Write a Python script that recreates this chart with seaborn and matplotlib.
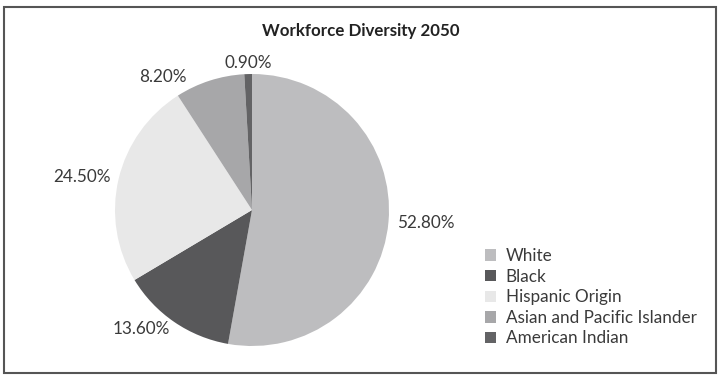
# Workforce diversity 2050 pie chart
import matplotlib
matplotlib.use("Agg")
import matplotlib.pyplot as plt
import matplotlib.patches as mpatches
import seaborn as sns

# data
groups = ["White", "Black", "Hispanic Origin", "Asian and Pacific Islander", "American Indian"]
shares = [52.8, 13.6, 24.5, 8.2, 0.9]
pct_labels = ["52.80%", "13.60%", "24.50%", "8.20%", "0.90%"]
colors = ["#bdbdbf", "#58585a", "#e8e8e8", "#a7a7a9", "#636365"]

sns.set_theme(style="white")
plt.rcParams['font.family'] = ['Lato', 'DejaVu Sans']

fig = plt.figure(figsize=(7.22, 3.78), dpi=100)

# axes placed so the pie sits where it does in the picture
W, H = 722, 378
ax = fig.add_axes([115 / W, (H - 346) / H, 274 / W, 272 / H])
wedges, texts = ax.pie(shares, labels=pct_labels, colors=colors, startangle=90,
                       counterclock=False, labeldistance=1.06,
                       wedgeprops=dict(linewidth=0, edgecolor='none'),
                       textprops=dict(fontsize=12.3, color="#3a3a3a"))
ax.set_aspect('auto')
ax.set_xlim(-1, 1)
ax.set_ylim(-1, 1)
ax.axis('off')

# the two small slices have their labels spread apart
texts[4].set_ha('center')
texts[4].set_va('bottom')
texts[4].set_position((-0.03, 1.02))
texts[3].set_position((-0.48, 0.98))

fig.text(361 / W, 1 - 31 / H, "Workforce Diversity 2050", ha='center', va='center',
         fontsize=12.2, fontweight='bold', color="#222222")

# legend on the lower right
handles = [mpatches.Patch(facecolor=c, edgecolor='none') for c in colors]
fig.legend(handles, groups, loc='upper left', bbox_to_anchor=(485 / W, 1 - 248 / H),
           frameon=False, fontsize=12.3, handlelength=0.65, handleheight=0.65,
           handletextpad=0.55, labelspacing=0.27, borderaxespad=0, borderpad=0,
           labelcolor="#3a3a3a")

# outer frame
fig.patches.append(mpatches.Rectangle((4 / W, 5 / H), 712 / W, 366 / H,
                                      transform=fig.transFigure, fill=False,
                                      edgecolor="#555555", linewidth=1.5))

fig.savefig("out.png", dpi=100)
